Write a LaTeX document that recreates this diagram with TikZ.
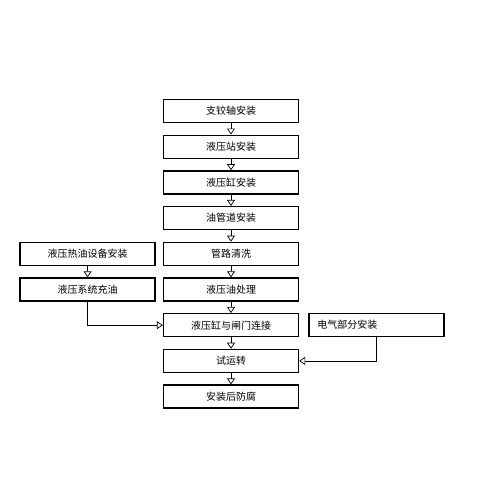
\documentclass[tikz,border=0pt]{standalone}
\usepackage{fontspec}
\newfontfamily\cjk{Noto Sans CJK SC}
\usepackage{tikz}
\usetikzlibrary{arrows.meta, positioning}

\begin{document}
\begin{tikzpicture}[x=1pt, y=-1pt, font=\cjk\fontsize{10}{12}\selectfont,
    node distance=11.3pt,
    stepbox/.style={draw, line width=1.4pt, minimum width=135pt, minimum height=23pt, inner sep=0pt},
    arr/.style={line width=0.7pt, -{Triangle[open, length=6pt, width=8pt]}}]
    \useasboundingbox (0,0) rectangle (500,500);
    % 主流程
    \node[stepbox] (zhou) at (231,111) {支铰轴安装};
    \node[stepbox, below=of zhou] (zhan) {液压站安装};
    \node[stepbox, below=of zhan] (gang) {液压缸安装};
    \node[stepbox, below=of gang] (guandao) {油管道安装};
    \node[stepbox, below=of guandao] (qingxi) {管路清洗};
    \node[stepbox, below=of qingxi] (youchuli) {液压油处理};
    \node[stepbox, below=of youchuli] (lianjie) {液压缸与闸门连接};
    \node[stepbox, below=of lianjie] (shiyun) {试运转};
    \node[stepbox, below=of shiyun] (fangfu) {安装后防腐};
    % 旁路
    \node[stepbox, left=7pt of qingxi] (reyou) {液压热油设备安装};
    \node[stepbox, left=7pt of youchuli] (chongyou) {液压系统充油};
    \node[stepbox, right=9pt of lianjie, text width=118pt, align=left] (dianqi) {电气部分安装};
    % 箭头
    \draw[arr] (zhou) -- (zhan);
    \draw[arr] (zhan) -- (gang);
    \draw[arr] (gang) -- (guandao);
    \draw[arr] (guandao) -- (qingxi);
    \draw[arr] (qingxi) -- (youchuli);
    \draw[arr] (youchuli) -- (lianjie);
    \draw[arr] (lianjie) -- (shiyun);
    \draw[arr] (shiyun) -- (fangfu);
    \draw[arr] (reyou) -- (chongyou);
    \draw[arr] (chongyou.south) |- (lianjie.west);
    \draw[arr] (dianqi.south) |- (shiyun.east);
\end{tikzpicture}
\end{document}
